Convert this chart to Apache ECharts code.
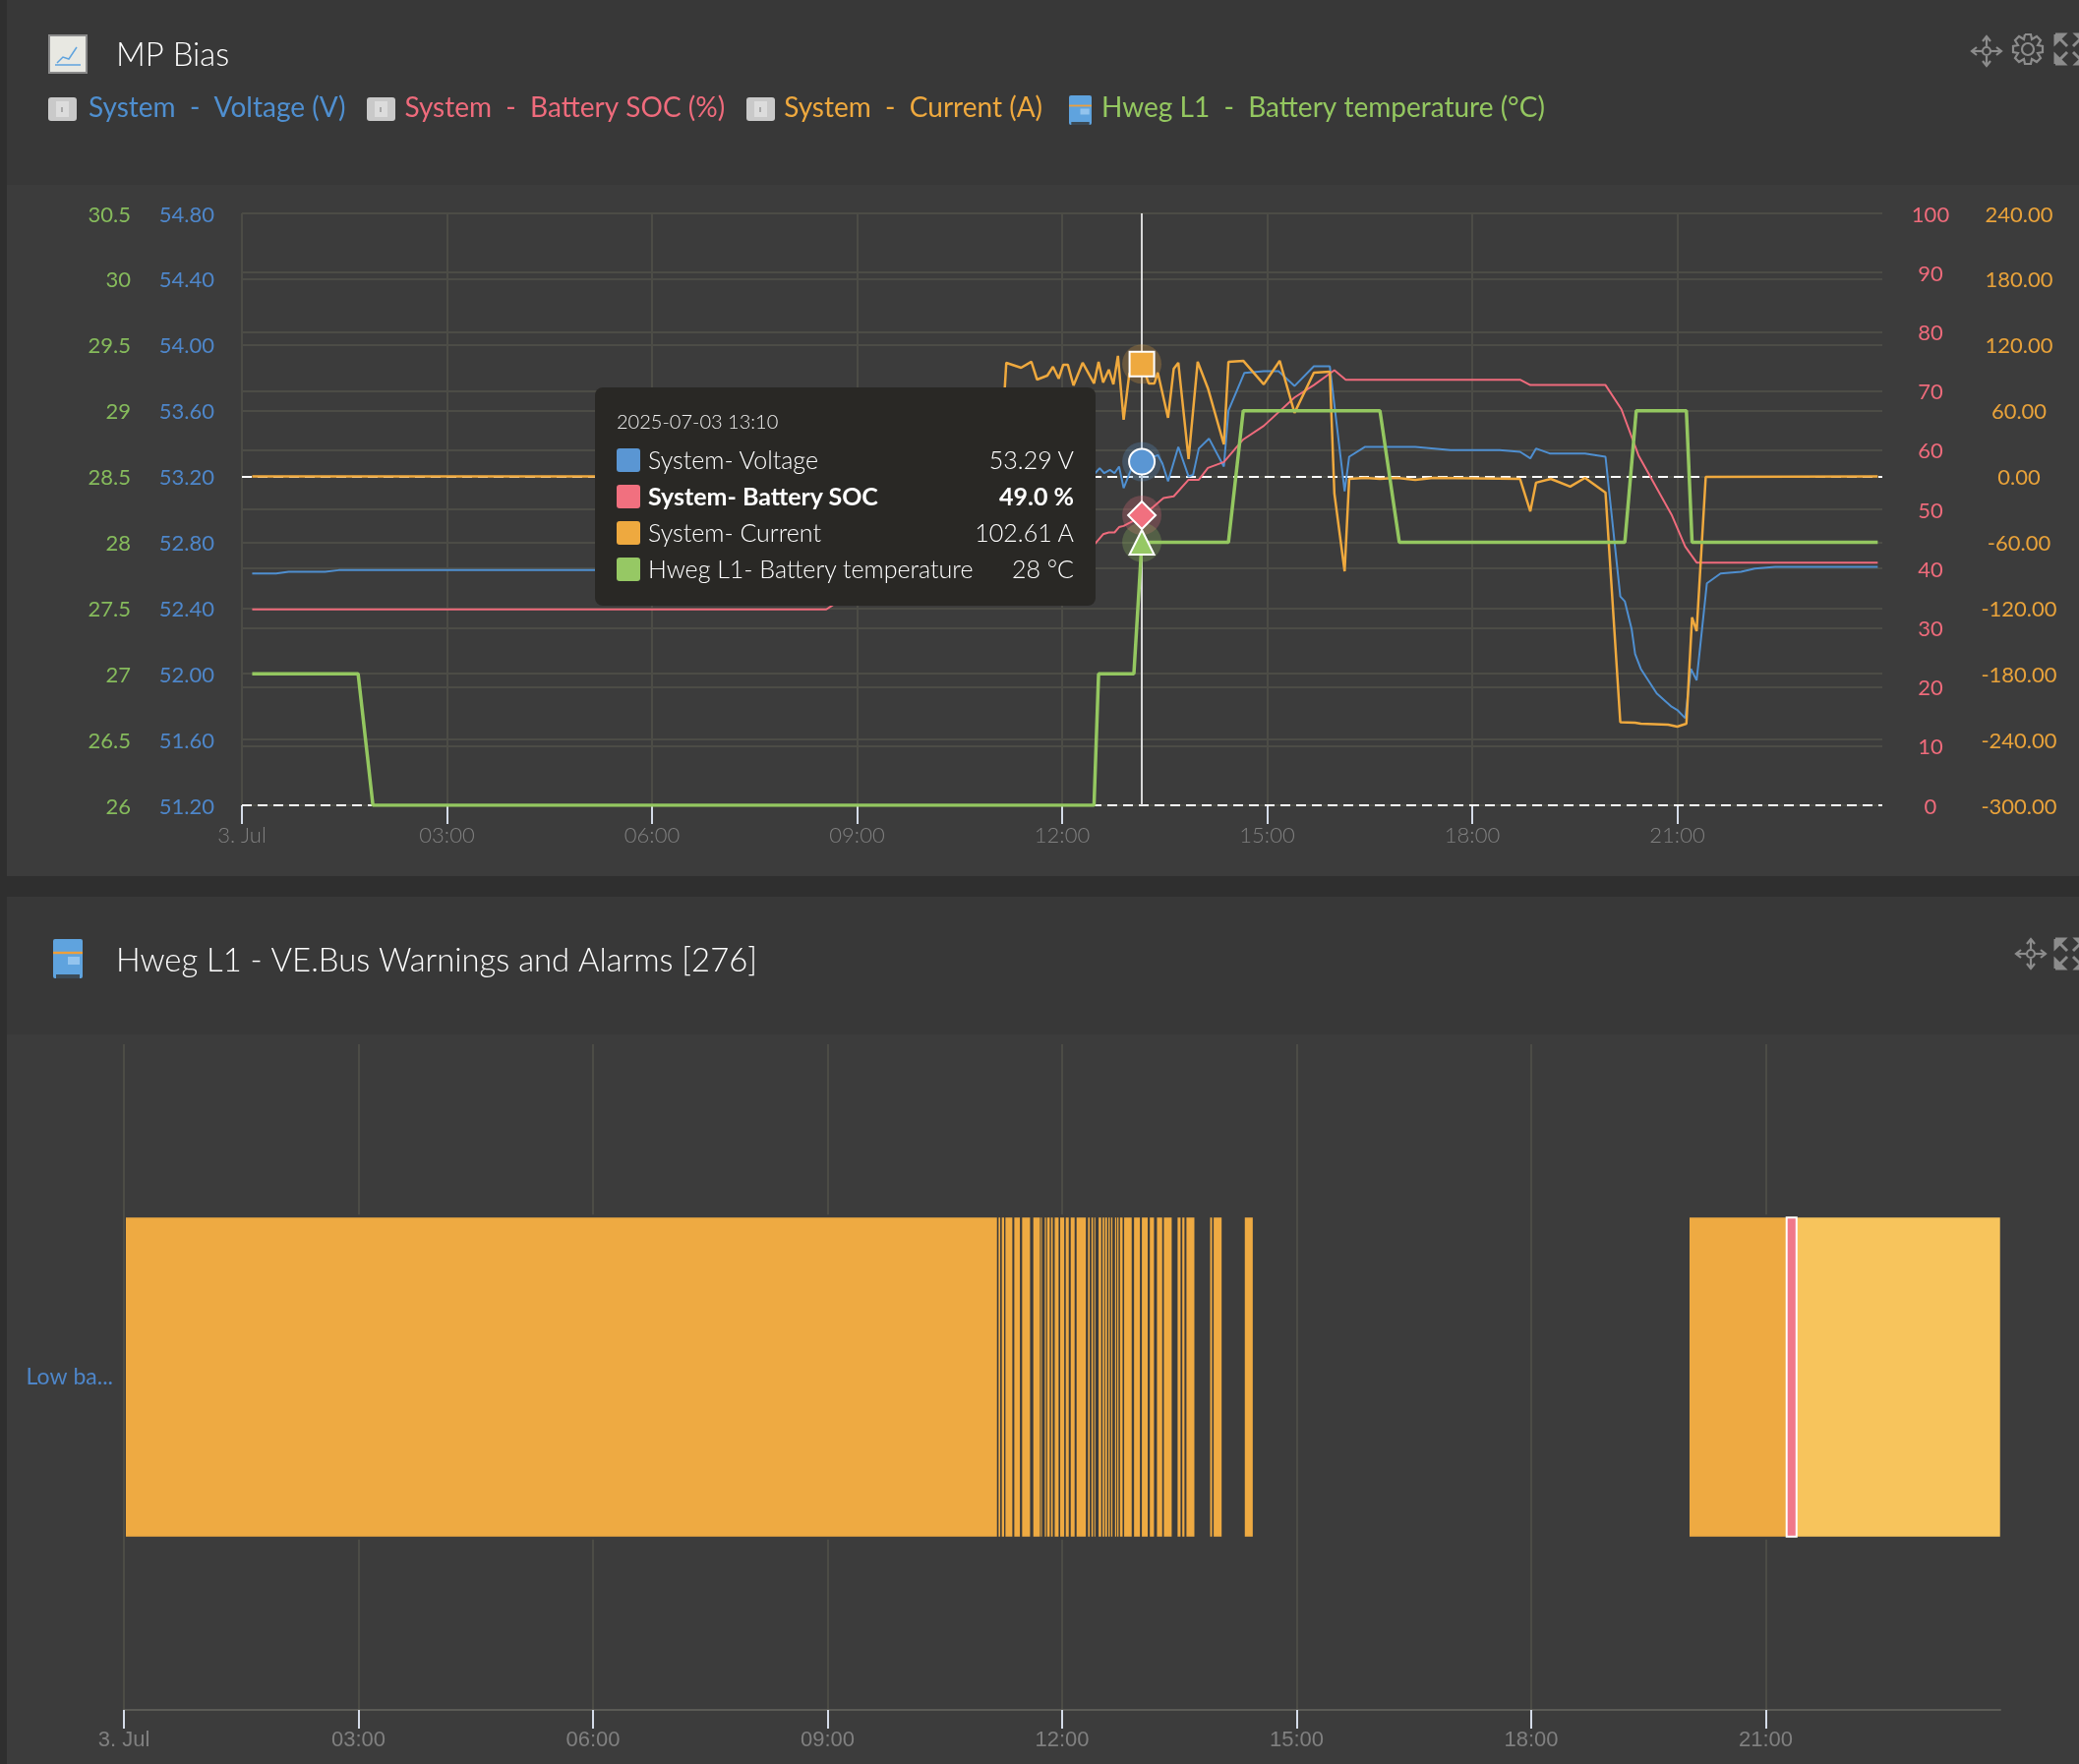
<!DOCTYPE html>
<html>
<head>
<meta charset="utf-8">
<title>MP Bias</title>
<script src="https://cdn.jsdelivr.net/npm/echarts@6/dist/echarts.min.js"></script>
<style>
html, body { margin: 0; padding: 0; background: #2f2f2f; overflow: hidden; }
.panel { position: absolute; left: 7px; right: 0; }
#chart { position: absolute; left: 0; top: 0; width: 2114px; height: 1794px; }
</style>
</head>
<body>
<div class="panel" style="top:0;height:188px;background:#383838"></div>
<div class="panel" style="top:188px;height:703px;background:#3c3c3c"></div>
<div class="panel" style="top:912px;height:140px;background:#383838"></div>
<div class="panel" style="top:1052px;height:742px;background:#3c3c3c"></div>
<div id="chart"></div>
<script>
// times are minutes after midnight on 3 Jul
const tickLabels = ['3. Jul', '03:00', '06:00', '09:00', '12:00', '15:00', '18:00', '21:00'];
const tickMinutes = [0, 180, 360, 540, 720, 900, 1080, 1260];
const hoverTime = 790;
const hoverLabel = '2025-07-03 13:10';

const voltageTimes = [9, 30, 41, 73, 85, 310, 500, 520, 600, 700, 749, 753, 757, 762, 766, 770, 774, 781, 790, 804, 808, 813, 822, 831, 835, 840, 849, 862, 866, 880, 897, 910, 924, 941, 955, 968, 972, 986, 1030, 1061, 1104, 1122, 1131, 1136, 1148, 1179, 1197, 1210, 1214, 1220, 1223, 1228, 1242, 1255, 1260, 1267, 1268, 1272, 1277, 1286, 1298, 1316, 1328, 1346, 1436];
const voltageValues = [52.61, 52.61, 52.62, 52.62, 52.63, 52.63, 52.64, 52.95, 53.15, 53.22, 53.22, 53.25, 53.22, 53.24, 53.22, 53.26, 53.13, 53.25, 53.29, 53.33, 53.28, 53.17, 53.38, 53.20, 53.21, 53.37, 53.43, 53.26, 53.60, 53.83, 53.84, 53.84, 53.75, 53.87, 53.87, 53.11, 53.32, 53.38, 53.38, 53.36, 53.36, 53.35, 53.31, 53.37, 53.34, 53.34, 53.32, 52.47, 52.44, 52.27, 52.12, 52.03, 51.88, 51.80, 51.78, 51.73, 51.73, 52.03, 51.96, 52.55, 52.61, 52.62, 52.64, 52.65, 52.65];

const socTimes = [9, 513, 520, 560, 600, 650, 700, 749, 756, 761, 766, 770, 774, 781, 790, 800, 809, 818, 831, 840, 848, 862, 879, 897, 924, 941, 959, 969, 1122, 1131, 1197, 1211, 1226, 1255, 1267, 1277, 1436];
const socValues = [33.1, 33.1, 34.0, 36.0, 38.0, 40.0, 42.0, 44.2, 45.8, 46.1, 46.1, 47.0, 47.2, 47.9, 49.0, 50.4, 51.9, 52.2, 55.0, 55.0, 57.0, 58.0, 61.8, 64.1, 68.9, 71.0, 73.5, 71.9, 71.9, 71.0, 71.0, 66.9, 59.1, 49.1, 43.7, 41.0, 41.0];

const currentTimes = [9, 665, 671, 684, 693, 698, 707, 712, 717, 721, 725, 730, 738, 748, 752, 756, 761, 765, 769, 774, 779, 790, 796, 801, 804, 813, 818, 822, 831, 839, 848, 862, 866, 879, 897, 911, 924, 941, 955, 959, 968, 972, 986, 999, 1014, 1030, 1046, 1122, 1131, 1136, 1149, 1166, 1179, 1197, 1210, 1223, 1228, 1252, 1260, 1268, 1273, 1277, 1285, 1436];
const currentValues = [0, 0, 103.7, 99.2, 104.6, 88.4, 92.0, 100.1, 89.3, 101.9, 101.9, 83.0, 103.7, 84.9, 104.6, 85.8, 97.4, 84.0, 110.0, 51.7, 93.8, 102.61, 84.9, 84.9, 94.7, 53.5, 98.3, 103.7, 15.8, 104.6, 80.4, 29.2, 104.6, 105.5, 84.0, 105.5, 58.0, 94.7, 95.6, -15.6, -86.5, -2.2, -1.3, -2.2, -1.3, -3.0, -1.3, -2.2, -31.8, -5.7, -2.2, -9.3, -1.3, -14.7, -224.2, -224.6, -225.5, -226.4, -228.2, -225.5, -128.6, -141.2, -0.4, 0];

const tempTimes = [9, 102, 115, 748, 752, 783, 790, 866, 879, 999, 1016, 1214, 1224, 1268, 1273, 1436];
const tempValues = [27, 27, 26, 26, 27, 27, 28, 28, 29, 29, 28, 28, 29, 29, 28, 28];

const warningStarts = [1.5, 671.2, 673.7, 676.5, 683.3, 689.3, 697.9, 703.7, 706.7, 708.5, 711.5, 714.3, 718.5, 722.8, 726.6, 731.1, 739.9, 742.5, 744.7, 748, 751, 753, 755.5, 757.6, 760.6, 762.3, 764.4, 767.6, 775.2, 781.2, 787.3, 792.8, 798.1, 808.6, 812.2, 815.4, 833.6, 836.3, 860.2, 1201.5];
const warningEnds = [670, 672.5, 675.5, 681.8, 687.6, 695.4, 703, 704.5, 707.7, 710.5, 712.8, 717.3, 721.6, 725.1, 729.6, 738.2, 741.2, 743.7, 745.5, 750, 752.3, 754.5, 756.6, 758.6, 761.6, 763.3, 766.4, 773.4, 779.7, 785.7, 790.5, 796.8, 804.1, 810.9, 813.9, 821.5, 835.1, 842.4, 866.3, 1276];
const lateWarningStarts = [1283.6];
const lateWarningEnds = [1439.8];
const alarmStarts = [1276];
const alarmEnds = [1283.6];

const gridColor = '#4c4c46';
const panelColor = '#3c3c3c';
const font = 'Lato';

function pairs(times, values) {
    return times.map((t, i) => [t, values[i]]);
}

function valueAt(times, values) {
    return values[times.indexOf(hoverTime)];
}

const lines = [
    { name: 'System  -  Voltage (V)', tip: 'System- Voltage', unit: ' V', digits: 2, times: voltageTimes, values: voltageValues, yAxisIndex: 1, color: '#4f8fd0', fill: '#5a96d3', width: 2, symbol: 'circle', size: 26, bold: false },
    { name: 'System  -  Battery SOC (%)', tip: 'System- Battery SOC', unit: ' %', digits: 1, times: socTimes, values: socValues, yAxisIndex: 2, color: '#ef6b7c', fill: '#f1707f', width: 2, symbol: 'diamond', size: 28, bold: true },
    { name: 'System  -  Current (A)', tip: 'System- Current', unit: ' A', digits: 2, times: currentTimes, values: currentValues, yAxisIndex: 3, color: '#efa93e', fill: '#eea93f', width: 2.5, symbol: 'rect', size: 25, bold: false },
    { name: 'Hweg L1  -  Battery temperature (°C)', tip: 'Hweg L1- Battery temperature', unit: ' °C', digits: 0, times: tempTimes, values: tempValues, yAxisIndex: 0, color: '#94c760', fill: '#96c864', width: 3.5, symbol: 'triangle', size: 25, bold: false }
];

const dashedLine = { color: '#fff', width: 2, type: [10, 6] };

const series = lines.map(l => ({
    name: l.name,
    type: 'line',
    xAxisIndex: 0,
    yAxisIndex: l.yAxisIndex,
    data: pairs(l.times, l.values),
    showSymbol: false,
    silent: true,
    emphasis: { disabled: true },
    lineStyle: { color: l.color, width: l.width },
    itemStyle: { color: l.color },
    markLine: l.symbol === 'diamond' || l.symbol === 'rect' ? {
        z: 1, silent: true, symbol: 'none', label: { show: false },
        lineStyle: dashedLine, data: [{ yAxis: 0 }]
    } : l.symbol === 'triangle' ? {
        z: 3, silent: true, symbol: 'none', label: { show: false },
        lineStyle: { color: '#d8d8d8', width: 2, type: 'solid' }, data: [{ xAxis: hoverTime }]
    } : undefined
}));

// hover markers with halo
lines.forEach(l => {
    const point = [[hoverTime, valueAt(l.times, l.values)]];
    series.push({
        name: l.tip + ' halo', type: 'scatter', xAxisIndex: 0, yAxisIndex: l.yAxisIndex, z: 4, silent: true,
        emphasis: { disabled: true },
        data: point, symbol: 'circle', symbolSize: 40,
        itemStyle: { color: l.fill, opacity: 0.25 }
    });
});
lines.forEach(l => {
    const point = [[hoverTime, valueAt(l.times, l.values)]];
    series.push({
        name: l.tip + ' marker', type: 'scatter', xAxisIndex: 0, yAxisIndex: l.yAxisIndex, z: 5, silent: true,
        emphasis: { disabled: true },
        data: point, symbol: l.symbol, symbolSize: l.size,
        itemStyle: { color: l.fill, borderColor: '#fff', borderWidth: 2, opacity: 1 }
    });
});

function rangeSeries(name, starts, ends, color, heightShare, border) {
    return {
        name: name,
        type: 'custom',
        xAxisIndex: 1,
        yAxisIndex: 4,
        silent: true,
        encode: { x: [0, 1], y: 2 },
        data: starts.map((s, i) => [s, ends[i], 0]),
        renderItem(params, api) {
            const a = api.coord([api.value(0), 0]);
            const b = api.coord([api.value(1), 0]);
            const h = api.size([0, 1])[1] * heightShare;
            return {
                type: 'rect',
                shape: { x: a[0], y: a[1] - h / 2, width: b[0] - a[0], height: h },
                style: border ? { fill: color, stroke: border, lineWidth: 2 } : { fill: color }
            };
        }
    };
}

// bars sit on a slightly taller patch of panel colour, which cuts the grid lines around them
series.push(rangeSeries('gap', warningStarts.concat(lateWarningStarts, alarmStarts), warningEnds.concat(lateWarningEnds, alarmEnds), panelColor, 0.488));
series.push(rangeSeries('Low battery', warningStarts, warningEnds, '#eeaa42', 0.479));
series.push(rangeSeries('Low battery late', lateWarningStarts, lateWarningEnds, '#f7c45c', 0.479));
series.push(rangeSeries('Low battery alarm', alarmStarts, alarmEnds, '#f0788a', 0.479, '#fff'));

function yAxis(position, min, max, interval, color, margin, align, digits, showGrid) {
    return {
        type: 'value', gridIndex: 0, position: position, min: min, max: max, interval: interval,
        axisLine: { show: false }, axisTick: { show: false },
        splitLine: { show: showGrid, lineStyle: { color: gridColor, width: 2 } },
        axisLabel: {
            color: color, fontFamily: font, fontSize: 22, fontWeight: 400, margin: margin, align: align,
            // small top-aligned line box puts the digits just under the tick, as in the original
            verticalAlign: 'top', lineHeight: 3,
            formatter: v => digits == null ? String(v) : v.toFixed(digits)
        }
    };
}

function xAxis(gridIndex, labelFont, showLine) {
    return {
        type: 'value', gridIndex: gridIndex, min: 0, max: 1440, interval: 180,
        axisLine: { show: showLine, onZero: false, lineStyle: { color: '#5a5a55', width: 2 } },
        axisTick: { show: true, length: 19, customValues: tickMinutes, lineStyle: { color: '#d4dbe8', width: 2 } },
        splitLine: { show: true, lineStyle: { color: gridColor, width: 2 } },
        axisLabel: {
            color: '#808080', fontFamily: labelFont, fontSize: 22, fontWeight: 300, margin: 20,
            customValues: tickMinutes,
            formatter: v => tickLabels[v / 180] || ''
        }
    };
}

function tooltipHtml() {
    let rows = lines.map(l => {
        const v = valueAt(l.times, l.values).toFixed(l.digits);
        const w = l.bold ? 700 : 300;
        return '<div style="display:flex;align-items:center;height:37px;font-weight:' + w + '">' +
            '<span style="width:24px;height:24px;border-radius:3px;background:' + l.fill + ';margin-right:8px"></span>' +
            '<span style="flex:1">' + l.tip + '</span><span>' + v + l.unit + '</span></div>';
    }).join('');
    return '<div style="width:465px;height:222px;box-sizing:border-box;padding-top:18px;font-family:' + font + ';font-size:25px;color:#fff;line-height:1">' +
        '<div style="font-size:20px;font-weight:300;height:37px;line-height:32px;color:#eee">' + hoverLabel + '</div>' + rows + '</div>';
}

const iconGray = '#c9c9c9';
const iconStroke = '#8c8c8c';

// toolbar icons: each stroke is a list of points around the icon centre
const moveStrokes = [[[0, -15], [0, -5]], [[0, 5], [0, 15]], [[-15, 0], [-5, 0]], [[5, 0], [15, 0]], [[-4, -10], [0, -15], [4, -10]], [[-4, 10], [0, 15], [4, 10]], [[-10, -4], [-15, 0], [-10, 4]], [[10, -4], [15, 0], [10, 4]]];
const gearStrokes = [[[-3, -15], [3, -15], [4, -10], [9, -13], [13, -9], [10, -4], [15, -3], [15, 3], [10, 4], [13, 9], [9, 13], [4, 10], [3, 15], [-3, 15], [-4, 10], [-9, 13], [-13, 9], [-10, 4], [-15, 3], [-15, -3], [-10, -4], [-13, -9], [-9, -13], [-4, -10], [-3, -15]]];
const expandStrokes = [[[-15, -15], [-3, -3]], [[-15, -15], [-15, -6], [-6, -15], [-15, -15]], [[-15, 15], [-3, 3]], [[-15, 15], [-15, 6], [-6, 15], [-15, 15]], [[15, -15], [3, -3]], [[15, -15], [15, -6], [6, -15], [15, -15]], [[15, 15], [3, 3]], [[15, 15], [15, 6], [6, 15], [15, 15]]];

function toolIcon(cx, cy, strokes, ringSize, filled) {
    const children = strokes.map(points => ({
        type: 'polyline', silent: true, shape: { points: points },
        style: { fill: filled && points.length > 2 ? iconStroke : 'none', stroke: iconStroke, lineWidth: filled ? 3 : 2.2 }
    }));
    if (ringSize) {
        children.push({ type: 'circle', silent: true, shape: { cx: 0, cy: 0, r: ringSize }, style: { fill: 'none', stroke: iconStroke, lineWidth: 2.2 } });
    }
    return { type: 'group', x: cx, y: cy, silent: true, children: children };
}

function systemIcon(x) {
    return [
        { type: 'rect', silent: true, shape: { x: x, y: 99, width: 29, height: 24, r: 3 }, style: { fill: iconGray }, z: 100 },
        { type: 'rect', silent: true, shape: { x: x + 8, y: 103, width: 13, height: 16 }, style: { fill: '#dcdcdc' }, z: 101 },
        { type: 'line', silent: true, shape: { x1: x + 14, y1: 109, x2: x + 14, y2: 114 }, style: { stroke: '#777', lineWidth: 1 }, z: 102 }
    ];
}
function converterIcon(x, y, w, h) {
    return [
        { type: 'rect', silent: true, shape: { x: x, y: y, width: w, height: h, r: 2 }, style: { fill: '#5fa3de' }, z: 100 },
        { type: 'rect', silent: true, shape: { x: x, y: y + h * 0.32, width: w, height: h * 0.06 }, style: { fill: '#ee9f3a' }, z: 101 },
        { type: 'rect', silent: true, shape: { x: x + w * 0.5, y: y + h * 0.45, width: w * 0.4, height: h * 0.2 }, style: { fill: '#93c4ee' }, z: 101 },
        { type: 'rect', silent: true, shape: { x: x + w * 0.1, y: y + h * 0.9, width: w * 0.8, height: h * 0.1 }, style: { fill: '#3c4a55' }, z: 101 }
    ];
}

const chart = echarts.init(document.getElementById('chart'), null, { renderer: 'canvas' });
chart.setOption({
    animation: false,
    backgroundColor: 'transparent',
    textStyle: { fontFamily: font },
    title: [
        { text: 'MP Bias', left: 118, top: 40, padding: 0, textStyle: { color: '#fff', fontFamily: font, fontSize: 32.8, fontWeight: 300 } },
        { text: 'Hweg L1 - VE.Bus Warnings and Alarms [276]', left: 118, top: 961, padding: 0, textStyle: { color: '#fff', fontFamily: font, fontSize: 32.8, fontWeight: 300 } }
    ],
    // legend icons are drawn in graphic below, at their own spots
    legend: {
        left: 49, top: 96, padding: 0, itemGap: 19, itemWidth: 36, itemHeight: 24, selectedMode: false,
        data: lines.map(l => ({
            name: l.name,
            icon: 'rect',
            itemStyle: { color: 'transparent' },
            lineStyle: { width: 0 },
            textStyle: { color: l.color, fontFamily: font, fontSize: 28, fontWeight: 400 }
        }))
    },
    grid: [
        { left: 246, right: 200, top: 217, height: 602, containLabel: false },
        { left: 126, right: 80, top: 1062, height: 677, containLabel: false }
    ],
    xAxis: [xAxis(0, font, false), xAxis(1, 'Liberation Sans', true)],
    yAxis: [
        yAxis('left', 26, 30.5, 0.5, '#86bb5c', 113, 'right', null, true),
        yAxis('left', 51.2, 54.8, 0.4, '#4e86c9', 28, 'right', 2, false),
        yAxis('right', 0, 100, 10, '#ee6b7b', 49, 'center', null, true),
        yAxis('right', -300, 240, 60, '#e8a23a', 139, 'center', 2, false),
        {
            type: 'category', gridIndex: 1, data: ['Low ba...'],
            axisLine: { show: false }, axisTick: { show: false }, splitLine: { show: false },
            axisLabel: { color: '#4e86c9', fontFamily: font, fontSize: 23, fontWeight: 400, margin: 11 }
        }
    ],
    tooltip: {
        trigger: 'axis',
        axisPointer: { type: 'none' },
        alwaysShowContent: true,
        showDelay: 0,
        transitionDuration: 0,
        backgroundColor: '#292825',
        borderWidth: 0,
        padding: [0, 22],
        position: [605, 394],
        extraCssText: 'box-shadow:none;border-radius:8px;',
        formatter: tooltipHtml
    },
    graphic: [
        { type: 'rect', silent: true, shape: { x: 50, y: 36, width: 38, height: 38 }, style: { fill: '#e8e8e2', stroke: '#8a8a8a', lineWidth: 2 } },
        { type: 'polyline', silent: true, shape: { points: [[58, 64], [64, 58], [70, 60], [78, 48]] }, style: { fill: 'none', stroke: '#5fa3de', lineWidth: 1.5 } },
        { type: 'line', silent: true, shape: { x1: 56, y1: 66, x2: 82, y2: 66 }, style: { stroke: '#5fa3de', lineWidth: 1.5 } },
        ...systemIcon(49), ...systemIcon(373), ...systemIcon(759),
        ...converterIcon(1087, 97, 23, 30),
        ...converterIcon(54, 955, 30, 40),
        toolIcon(2020, 52, moveStrokes, 4),
        toolIcon(2062, 50, gearStrokes, 6),
        toolIcon(2105, 50, expandStrokes, 0, true),
        toolIcon(2065, 970, moveStrokes, 4),
        toolIcon(2105, 970, expandStrokes, 0, true)
    ],
    series: series
});

chart.dispatchAction({ type: 'showTip', seriesIndex: 0, dataIndex: voltageTimes.indexOf(hoverTime) });
</script>
</body>
</html>
